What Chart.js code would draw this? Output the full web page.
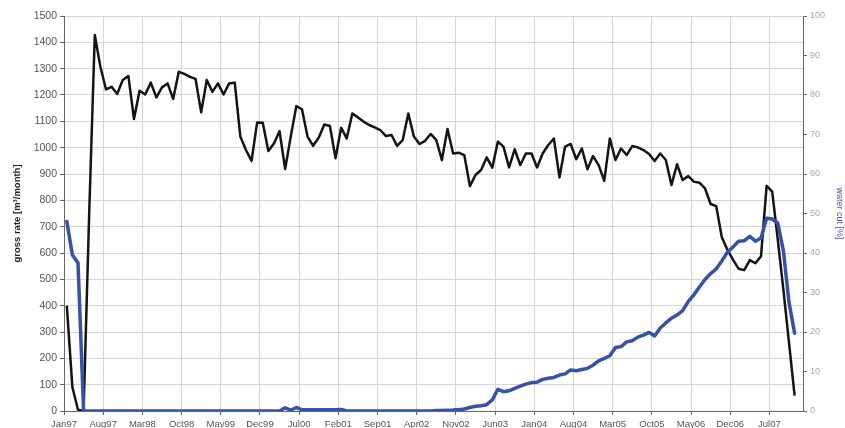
<!DOCTYPE html>
<html>
<head>
<meta charset="utf-8">
<script src="https://cdn.jsdelivr.net/npm/chart.js@4.4.1/dist/chart.umd.min.js"></script>
<style>
  html, body { margin: 0; padding: 0; background: #ffffff; }
  #wrap { width: 845px; height: 428px; }
</style>
</head>
<body>
<div id="wrap"><canvas id="c" width="845" height="428"></canvas></div>
<script>
// Tick labels on the time axis (every 7 months starting Jan97)
const tickLabels = ['Jan97','Aug97','Mar98','Oct98','May99','Dec99','Jul00','Feb01','Sep01','Apr02',
                    'Nov02','Jun03','Jan04','Aug04','Mar05','Oct05','May06','Dec06','Jul07'];

// Monthly gross rate [m3/month], Jan97 .. Nov07 (one value per month)
const grossRate = [
  400, 90, 5, 0, 750, 1428, 1307, 1221, 1231, 1204,
  1257, 1272, 1109, 1216, 1202, 1247, 1191, 1229, 1244, 1185,
  1288, 1280, 1269, 1261, 1134, 1257, 1212, 1244, 1202, 1244,
  1247, 1042, 991, 950, 1096, 1095, 987, 1016, 1063, 919,
  1042, 1158, 1146, 1042, 1007, 1038, 1088, 1082, 960, 1076,
  1035, 1130, 1115, 1099, 1086, 1077, 1067, 1044, 1048, 1007,
  1029, 1130, 1042, 1014, 1026, 1052, 1029, 953, 1071, 978,
  981, 972, 854, 896, 915, 963, 924, 1023, 1004, 925,
  994, 934, 978, 978, 925, 978, 1010, 1035, 887, 1004,
  1014, 956, 997, 918, 968, 934, 874, 1035, 953, 997,
  972, 1006, 1001, 991, 976, 949, 978, 953, 858, 937,
  877, 892, 871, 867, 845, 786, 778, 660, 612, 575,
  540, 535, 573, 561, 588, 855, 833, 650, 460, 260,
  58
];

// Monthly water cut [%], Jan97 .. Nov07
const waterCut = [
  48, 39.5, 37.5, 0, 0, 0, 0, 0, 0, 0,
  0, 0, 0, 0, 0, 0, 0, 0, 0, 0,
  0, 0, 0, 0, 0, 0, 0, 0, 0, 0,
  0, 0, 0, 0, 0, 0, 0, 0, 0, 0.8,
  0.2, 0.9, 0.3, 0.3, 0.3, 0.3, 0.3, 0.3, 0.3, 0.4,
  0, 0, 0, 0, 0, 0, 0, 0, 0, 0,
  0, 0, 0, 0, 0, 0, 0.1, 0.1, 0.2, 0.25,
  0.35, 0.5, 0.9, 1.2, 1.35, 1.6, 2.8, 5.5, 4.9, 5.1,
  5.7, 6.3, 6.8, 7.2, 7.3, 8.0, 8.3, 8.5, 9.1, 9.4,
  10.4, 10.2, 10.5, 10.8, 11.6, 12.7, 13.3, 14.0, 16.1, 16.3,
  17.5, 17.8, 18.7, 19.2, 19.9, 19.0, 21.0, 22.3, 23.5, 24.3,
  25.4, 27.7, 29.4, 31.4, 33.3, 34.8, 36.0, 38.0, 40.2, 41.5,
  43.0, 43.1, 44.2, 43.0, 43.8, 48.8, 48.6, 47.6, 40.5, 27.5,
  19.7
];

// months since Jan97; monthly values are plotted at mid-month
const toPoints = arr => arr.map((v, i) => ({ x: i + 0.5, y: v }));

const axisColor = '#666666';
const gridColor = '#d6d6d6';
const fontFamily = 'Liberation Sans, Arial, sans-serif';

new Chart(document.getElementById('c'), {
  type: 'line',
  data: {
    datasets: [
      {
        label: 'water cut [%]',
        data: toPoints(waterCut),
        yAxisID: 'y1',
        borderColor: '#3552a6',
        borderWidth: 3.5,
        pointRadius: 0,
        tension: 0,
        borderJoinStyle: 'round',
        borderCapStyle: 'round',
        order: 0
      },
      {
        label: 'gross rate [m³/month]',
        data: toPoints(grossRate),
        yAxisID: 'y',
        borderColor: '#141414',
        borderWidth: 2.5,
        pointRadius: 0,
        tension: 0,
        borderJoinStyle: 'round',
        order: 1
      }
    ]
  },
  options: {
    responsive: false,
    animation: false,
    devicePixelRatio: 1,
    layout: { padding: { top: 16, left: 0, right: 0, bottom: 0 } },
    plugins: { legend: { display: false }, tooltip: { enabled: false } },
    scales: {
      x: {
        type: 'linear',
        min: 0,
        max: 132,
        afterFit: s => { s.height = 17; },
        ticks: {
          stepSize: 7,
          autoSkip: false,
          includeBounds: false,
          maxRotation: 0,
          padding: 4,
          color: '#555555',
          font: { family: fontFamily, size: 9.5 },
          callback: v => tickLabels[v / 7] ?? ''
        },
        grid: { color: gridColor, tickColor: axisColor, tickLength: 4 },
        border: { color: axisColor, width: 1 }
      },
      y: {
        position: 'left',
        min: 0,
        max: 1500,
        afterFit: s => { s.width = 64; },
        ticks: {
          stepSize: 100,
          padding: 3,
          color: '#555555',
          font: { family: fontFamily, size: 10.5 },
          callback: v => String(v)
        },
        grid: { color: gridColor, tickColor: axisColor, tickLength: 4 },
        border: { color: axisColor, width: 1 },
        title: {
          display: true,
          text: 'gross rate [m³/month]',
          color: '#222222',
          padding: { top: 12, bottom: 0 },
          font: { family: fontFamily, size: 9.5, weight: 'bold' }
        }
      },
      y1: {
        position: 'right',
        min: 0,
        max: 100,
        afterFit: s => { s.width = 42; },
        ticks: {
          stepSize: 10,
          padding: 3,
          color: '#a8a8a8',
          font: { family: fontFamily, size: 9 },
          callback: v => String(v)
        },
        grid: { drawOnChartArea: false, tickColor: axisColor, tickLength: 4 },
        border: { color: axisColor, width: 1 },
        title: {
          display: true,
          text: 'water cut [%]',
          color: '#4e52a6',
          padding: { top: 0, bottom: 0 },
          font: { family: fontFamily, size: 9 }
        }
      }
    }
  }
});
</script>
</body>
</html>
